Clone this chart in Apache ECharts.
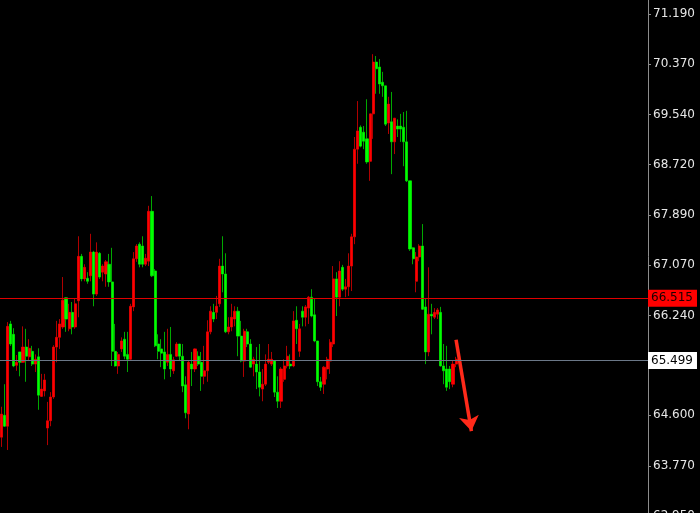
<!DOCTYPE html>
<html>
<head>
<meta charset="utf-8">
<script src="https://cdn.jsdelivr.net/npm/echarts@6/dist/echarts.min.js"></script>
<style>
html,body{margin:0;padding:0;background:#000;}
#chart{width:700px;height:513px;}
</style>
</head>
<body>
<div id="chart"></div>
<script>
const opens = [64.24,64.60,64.42,66.10,65.93,65.42,65.64,65.47,65.72,65.56,
65.65,65.44,65.56,64.91,65.00,64.39,64.51,64.90,65.72,65.88,
66.05,66.53,66.02,66.29,66.05,66.48,67.21,66.84,66.85,66.89,
67.28,66.59,67.26,66.95,66.92,67.08,66.79,65.65,65.41,65.69,
65.85,65.60,65.52,66.38,67.17,67.41,67.38,67.08,67.13,67.95,
66.97,65.77,65.69,65.64,65.47,65.60,65.33,65.57,65.77,65.57,
65.10,64.62,65.44,65.36,65.57,65.47,65.24,65.33,65.97,66.29,
66.29,66.43,67.05,66.92,65.97,66.05,66.18,66.31,65.90,65.49,
65.97,65.77,65.44,65.44,65.31,65.03,65.11,65.47,65.44,65.49,
64.98,64.83,65.19,65.41,65.44,65.41,66.16,65.65,66.31,66.21,
66.36,66.54,66.25,65.82,65.15,65.11,65.36,65.49,65.77,66.84,
66.54,67.03,66.67,66.71,67.05,67.53,68.97,69.33,69.25,69.14,
68.77,69.55,70.40,70.32,70.07,70.01,69.40,69.42,69.09,69.35,
69.35,69.33,69.09,68.45,67.35,66.80,67.20,67.38,66.38,65.64,
66.26,66.21,66.26,66.29,65.41,65.36,65.36,65.11,65.44];
const closes = [64.62,64.42,66.06,65.77,65.41,65.47,65.47,65.72,65.57,65.70,
65.44,65.52,64.93,65.03,65.18,64.51,64.90,65.72,65.88,66.10,
66.49,66.18,66.29,66.05,66.43,67.21,66.84,67.03,66.80,67.28,
66.59,67.28,66.87,67.05,67.12,66.79,65.65,65.41,65.60,65.82,
65.57,65.52,66.39,67.17,67.38,67.08,67.08,67.18,67.95,66.89,
65.74,65.65,65.62,65.36,65.60,65.36,65.51,65.77,65.57,65.08,
64.64,65.47,65.36,65.69,65.44,65.24,65.33,65.97,66.31,66.18,
66.39,67.05,66.92,65.97,66.05,66.21,66.31,65.90,65.49,65.98,
65.77,65.39,65.52,65.31,65.06,65.11,65.44,65.52,65.52,64.98,
64.83,65.36,65.41,65.57,65.41,66.15,66.02,66.02,66.21,66.38,
66.54,66.23,65.82,65.15,65.06,65.39,65.52,65.80,66.84,66.54,
66.97,66.67,66.71,67.05,67.53,68.97,69.27,69.02,69.10,68.76,
69.55,70.40,70.29,70.04,70.01,69.38,69.71,69.09,69.48,69.30,
69.30,69.09,68.45,67.33,67.17,67.20,67.38,66.34,65.64,66.26,
66.23,66.29,66.33,65.41,65.33,65.06,65.15,65.44,65.52];
const lows = [64.08,64.41,64.03,65.74,65.39,65.33,65.24,65.46,65.15,65.49,
65.41,65.31,64.69,64.90,64.91,64.11,64.42,64.87,65.47,65.69,
66.02,65.97,65.98,65.93,66.02,66.21,66.80,66.80,66.76,66.80,
66.39,66.56,66.84,66.80,66.71,66.71,65.41,65.40,65.28,65.64,
65.52,65.31,65.51,66.31,67.12,67.03,67.03,67.05,67.05,66.87,
65.72,65.52,65.39,65.19,65.41,65.23,65.28,65.56,65.49,64.98,
64.55,64.37,65.08,65.31,65.41,65.00,65.11,65.15,65.93,66.13,
66.18,66.38,66.62,65.95,65.93,65.98,66.06,65.57,65.47,65.23,
65.72,65.38,65.24,65.03,64.91,64.83,65.08,65.44,65.41,64.90,
64.72,64.72,65.15,65.37,65.36,65.39,65.77,65.56,66.06,66.06,
66.10,66.21,65.80,65.08,65.00,64.95,65.19,65.28,65.72,66.23,
66.39,66.64,66.54,66.56,66.64,67.41,68.73,69.00,68.97,68.73,
68.45,69.14,69.88,69.88,69.83,69.35,69.22,68.56,68.89,69.17,
69.09,68.69,68.43,67.30,67.08,66.62,67.13,66.33,65.44,65.57,
65.93,66.18,66.18,65.40,65.11,65.00,65.03,65.06,65.39];
const highs = [64.74,65.11,66.13,66.15,66.03,65.59,65.64,66.06,66.02,65.85,
65.74,65.60,65.70,65.28,65.28,64.82,64.98,65.75,66.15,66.18,
66.87,66.54,66.43,66.46,66.51,67.54,67.25,67.08,66.95,67.58,
67.30,67.44,67.28,67.08,67.15,67.25,67.35,66.10,65.64,65.88,
65.97,65.97,66.43,67.28,67.41,67.44,67.54,67.25,68.04,68.20,
67.00,65.93,65.85,65.97,66.02,66.05,65.56,65.80,65.77,65.77,
65.24,65.49,65.64,65.70,65.65,65.64,65.74,66.16,66.39,66.43,
66.56,67.17,67.54,67.26,66.21,66.43,66.39,66.38,66.15,66.02,
66.02,65.85,65.56,65.72,65.77,65.36,65.60,65.77,65.64,65.50,
65.24,65.39,65.52,65.74,65.60,66.31,66.39,66.10,66.39,66.41,
66.56,66.67,66.51,65.82,65.23,65.41,65.56,65.85,67.05,66.95,
67.13,67.07,66.84,67.26,67.58,69.17,69.76,69.36,69.35,69.79,
69.55,70.53,70.50,70.45,70.24,70.01,69.83,69.91,69.48,69.46,
69.55,69.58,69.60,68.45,67.36,67.28,67.41,67.74,66.51,67.03,
66.43,66.36,66.36,66.38,65.77,65.74,65.41,65.49,65.56];
const tickLabels = [62.95, 63.77, 64.60, 65.42, 66.24, 67.07, 67.89, 68.72, 69.54, 70.37, 71.19];
const levelRed = 66.515;
const levelGrey = 65.499;
const arrowFrom = ['148', 65.84];
const arrowTo = ['153', 64.34];
const slotCount = 211;

const categories = [];
for (let i = 0; i < slotCount; i++) categories.push(String(i));
const candles = opens.map((o, i) => [o, closes[i], lows[i], highs[i]]);

const FONT = 'DejaVu Sans';
const chart = echarts.init(document.getElementById('chart'), null, {renderer: 'canvas'});
chart.setOption({
  backgroundColor: '#000000',
  animation: false,
  grid: {left: 0, right: 52, top: 0, bottom: -7, containLabel: false, outerBoundsMode: 'none'},
  xAxis: {
    type: 'category', data: categories, boundaryGap: true, show: false
  },
  yAxis: {
    type: 'value', position: 'right', min: 62.88, max: 71.42,
    splitLine: {show: false},
    axisLine: {show: true, lineStyle: {color: '#8c8c8c', width: 1}},
    axisTick: {show: true, length: 3, inside: false, customValues: tickLabels, lineStyle: {color: '#8c8c8c'}},
    axisLabel: {
      show: true, customValues: tickLabels, margin: 5, color: '#e6e6e6',
      fontFamily: FONT, fontSize: 12,
      formatter: v => Number(v).toFixed(3)
    }
  },
  series: [
    {
      type: 'candlestick', name: 'wicks', data: candles, barWidth: 2.6, silent: true, z: 2,
      itemStyle: {color: 'rgba(0,0,0,0)', color0: 'rgba(0,0,0,0)', borderColor: '#b00000', borderColor0: '#00a800', borderWidth: 1},
      markLine: {
        silent: true, symbol: ['none', 'arrow'], symbolSize: 15,
        label: {show: false},
        lineStyle: {color: '#ff2a1a', width: 3.5, type: 'solid'},
        data: [[{coord: arrowFrom}, {coord: arrowTo}]]
      }
    },
    {
      type: 'candlestick', name: 'bodies', data: candles, barWidth: 2.6, silent: true, z: 3,
      itemStyle: {color: '#ff0000', color0: '#00ff00', borderColor: '#ff0000', borderColor0: '#00ff00', borderWidth: 0},
      markLine: {
        silent: true, symbol: ['none', 'none'], z: 10,
        data: [
          {yAxis: levelRed, lineStyle: {color: '#e00000', width: 1, type: 'solid', opacity: 1},
           label: {show: true, position: 'end', distance: 0, formatter: levelRed.toFixed(3),
             backgroundColor: '#ff0000', color: '#1a0000', padding: [3, 4, 2, 3], fontFamily: FONT, fontSize: 12}},
          {yAxis: levelGrey, lineStyle: {color: '#6b7888', width: 1, type: 'solid', opacity: 1},
           label: {show: true, position: 'end', distance: 0, formatter: levelGrey.toFixed(3),
             backgroundColor: '#ffffff', color: '#000000', padding: [3, 4, 2, 3], fontFamily: FONT, fontSize: 12}}
        ]
      }
    }
  ]
});
</script>
</body>
</html>
